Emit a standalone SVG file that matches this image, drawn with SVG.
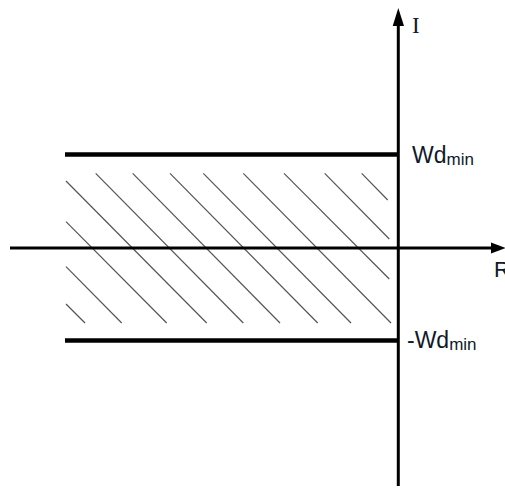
<svg xmlns="http://www.w3.org/2000/svg" width="505" height="489" viewBox="0 0 505 489">
<style>
.hatch{stroke:#555;stroke-width:1.2;fill:none}
.axis{stroke:#000;stroke-width:3;fill:none}
.bar{stroke:#000;stroke-width:4.5;fill:none}
.lbl{font-family:"Liberation Sans",Arial,sans-serif;fill:#0f1a2a}
</style>
<rect width="505" height="489" fill="#fff"/>
<g id="hatching">
<line class="hatch" x1="66" y1="304" x2="85" y2="323"/>
<line class="hatch" x1="66" y1="266.7" x2="121.7" y2="323"/>
<line class="hatch" x1="66" y1="221.7" x2="166.7" y2="323"/>
<line class="hatch" x1="66" y1="181" x2="206.7" y2="323"/>
<line class="hatch" x1="95.7" y1="173.3" x2="243.3" y2="323"/>
<line class="hatch" x1="132.7" y1="173.3" x2="280" y2="323"/>
<line class="hatch" x1="170" y1="173.3" x2="317.7" y2="323"/>
<line class="hatch" x1="203.3" y1="173.3" x2="351" y2="323"/>
<line class="hatch" x1="243.3" y1="173.3" x2="391" y2="323"/>
<line class="hatch" x1="284" y1="173.3" x2="389.3" y2="279"/>
<line class="hatch" x1="324.7" y1="173.3" x2="389.3" y2="239"/>
<line class="hatch" x1="361.7" y1="173.3" x2="387.7" y2="200"/>
</g>
<g id="bars">
<line class="bar" x1="65" y1="154.5" x2="398" y2="154.5"/>
<line class="bar" x1="65" y1="340.5" x2="398" y2="340.5"/>
</g>
<g id="axes">
<line class="axis" x1="10" y1="248" x2="493" y2="248"/>
<polygon points="491,242.5 506,248 491,253.5" fill="#000"/>
<line class="axis" x1="398.3" y1="24" x2="398.3" y2="486"/>
<polygon points="392.7,26 398.3,8 404,26" fill="#000"/>
</g>
<g id="labels">
<text x="412" y="33" font-family="'Liberation Serif',serif" font-size="23" fill="#0f1a2a">I</text>
<text class="lbl" x="494" y="277" font-size="22">R</text>
<text class="lbl" x="412" y="163" font-size="23">Wd<tspan font-size="17" dy="2">min</tspan></text>
<text class="lbl" x="407" y="347.5" font-size="23">-Wd<tspan font-size="17" dy="2">min</tspan></text>
</g>
</svg>
